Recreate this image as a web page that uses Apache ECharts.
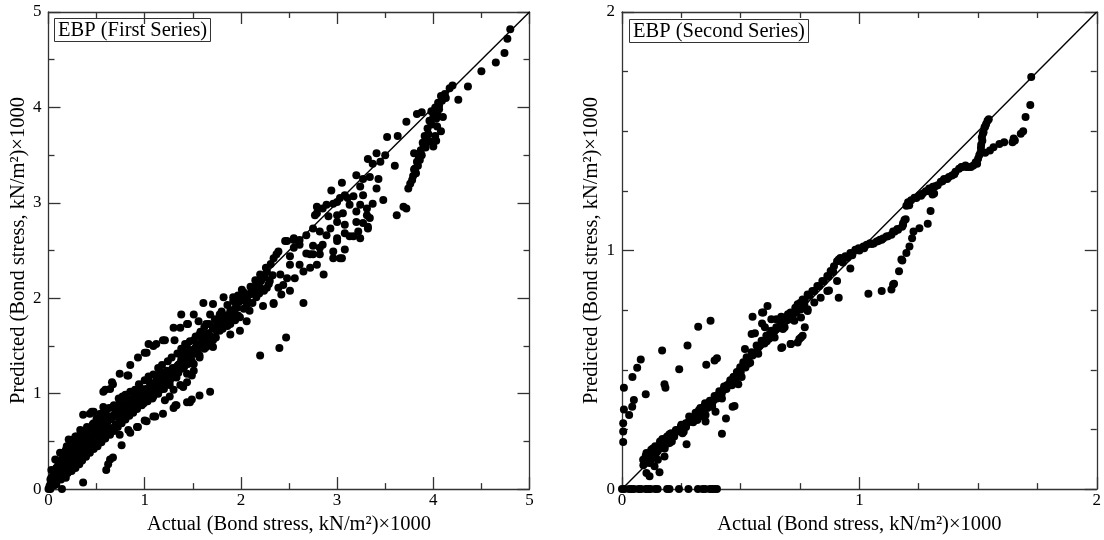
<!DOCTYPE html>
<html>
<head>
<meta charset="utf-8">
<script src="https://cdn.jsdelivr.net/npm/echarts@6/dist/echarts.min.js"></script>
<style>html,body{margin:0;padding:0;background:#fff;}#c{width:1104px;height:540px;}</style>
</head>
<body>
<div id="c"></div>
<script>
// ---------- DATA ----------
const panelTitles = ['EBP (First Series)', 'EBP (Second Series)'];
const xAxisTitle = 'Actual (Bond stress, kN/m\u00B2)\u00D71000';
const yAxisTitle = 'Predicted (Bond stress, kN/m\u00B2)\u00D71000';
const firstRange = [0, 5];
const secondRange = [0, 2];
const firstDiagonal = [[0, 0], [5, 5]];
const secondDiagonal = [[0, 0], [2, 2]];

// [actual, predicted] – EBP first series
const firstSeries = [
[4.80,4.82],[4.77,4.72],[4.74,4.57],[4.65,4.47],[4.50,4.38],[4.36,4.22],[4.26,4.08],[4.20,4.23],[4.17,4.20],[4.12,4.14],
[4.08,4.12],[4.05,4.05],[4.02,4.00],[4.00,3.95],[4.06,3.98],[4.10,3.90],[4.03,3.88],[3.98,3.82],[4.04,3.80],[4.08,3.75],
[3.93,3.67],[3.90,3.60],[3.88,3.50],[3.84,3.39],[3.82,3.31],[3.78,3.24],[3.74,3.15],[3.80,3.52],[4.00,3.59],[3.95,3.72],
[4.02,3.70],[3.86,3.45],[3.80,3.35],[3.83,3.93],[3.88,3.95],[3.98,3.96],
[3.76,3.20],[3.79,3.28],[3.81,3.36],[3.83,3.43],[3.85,3.48],[3.87,3.55],[3.89,3.63],[3.91,3.70],[3.94,3.78],[3.96,3.86],
[4.00,3.90],[4.04,3.93],[4.06,4.02],[4.09,4.07],[4.13,4.10],[3.92,3.58],[3.97,3.64],[4.03,3.65],
[3.72,3.85],[3.63,3.70],[3.52,3.69],[3.60,3.39],[3.41,3.52],[3.50,3.50],[3.32,3.46],[3.37,3.41],[3.45,3.43],
[3.20,3.29],[3.27,3.25],[3.34,3.27],[3.43,3.25],[3.05,3.21],[3.24,3.17],[3.41,3.15],[2.94,3.13],[3.08,3.08],[3.17,3.07],
[3.27,3.08],[3.48,3.03],[3.72,2.94],[3.69,2.96],[3.62,2.87],
[2.79,2.96],[2.85,2.94],[2.96,2.99],[3.03,3.05],[3.11,3.05],[2.77,2.87],[2.91,2.86],[3.00,2.87],[3.13,2.98],[3.20,2.91],
[3.31,2.94],[3.34,2.84],[3.27,2.79],[3.08,2.77],[3.22,2.70],[3.32,2.73],[2.93,2.73],[2.82,2.70],[2.68,2.66],[2.55,2.63],
[2.46,2.60],[2.61,2.56],[2.75,2.55],[2.85,2.56],[3.00,2.63],[3.13,2.65],[2.96,2.49],[2.82,2.46],[3.03,2.42],[2.72,2.46],
[2.51,2.44],[2.37,2.46],
[2.89,2.98],[3.00,3.01],[3.24,2.98],[3.37,2.99],[3.31,2.87],[3.20,2.80],[3.06,2.89],[2.79,2.89],[3.00,2.80],[2.89,2.66],
[2.75,2.73],[3.00,2.60],[3.08,2.68],[3.17,2.65],[3.24,2.63],[3.32,2.75],[3.08,2.51],[2.96,2.42],[3.05,2.42],[2.86,2.25],
[2.48,2.60],[2.55,2.61],[2.61,2.61],[2.39,2.49],[2.34,2.42],[2.55,2.53],[2.68,2.47],[2.75,2.46],[2.82,2.53],[2.51,2.35],
[2.61,2.35],[2.65,2.28],[2.72,2.32],[2.79,2.35],[2.27,2.28],[2.22,2.23],[2.30,2.18],[2.41,2.25],[2.48,2.21],[2.56,2.21],
[2.44,2.14],[2.39,2.11],[2.27,2.11],[2.20,2.11],[2.65,1.95],[2.51,2.08],[2.42,2.04],[2.34,1.95],[2.23,1.92],[2.16,2.01],
[2.09,2.04],[2.01,2.09],[1.92,2.01],[1.82,2.01],[1.71,1.94],[1.61,1.95],[1.51,1.83],[1.38,1.83],[1.44,1.73],[1.56,1.76],
[1.68,1.83],[1.78,1.83],[1.89,1.87],[1.96,1.90],[2.09,1.87],[1.99,1.80],[2.06,1.76],[1.99,1.66],[1.89,1.62],[1.78,1.66],
[1.71,1.69],[1.64,1.73],[1.57,1.62],[1.51,1.56],[1.61,1.52],[1.71,1.49],[1.44,1.49],[1.47,1.35],[1.57,1.38],[1.40,1.42],
[1.51,1.24],[2.20,1.40],[2.40,1.48],[2.47,1.59],[2.34,1.94],
[1.30,1.69],[1.37,1.69],[1.45,1.73],[1.19,1.56],[1.09,1.50],[1.04,1.52],[0.93,1.38],[1.00,1.43],[0.85,1.30],[0.74,1.21],
[0.83,1.19],[0.67,1.10],[0.57,1.02],[0.64,1.05],[0.47,0.81],[0.43,0.79],[0.54,0.79],[0.36,0.78],[0.28,0.55],[0.21,0.52],
[0.35,0.59],
[1.68,1.02],[1.57,0.98],[1.47,0.91],[1.33,0.88],[1.30,0.85],[1.19,0.79],[1.09,0.76],[1.00,0.72],[0.92,0.65],[0.83,0.62],
[0.74,0.57],[0.76,0.46],[0.67,0.33],[0.62,0.26],[0.60,0.20],[0.36,0.07],[0.14,0.00],
[1.57,1.40],[1.51,1.31],[1.49,1.19],[1.44,1.12],[1.37,1.09],[1.26,1.09],[1.30,1.04],[1.26,0.97],[1.21,0.93],[1.61,1.56],
[1.64,1.62],[1.71,1.68],[1.78,1.71],[1.89,1.73],[1.92,1.80],[1.97,1.82],
[0.95,1.07],[1.05,1.12],[1.12,1.14],[1.16,1.23],[1.23,1.24],[0.99,1.00],[0.88,0.97],[0.81,0.93],[0.74,0.90],[0.67,0.86],
[0.60,0.83],[0.54,0.72],[0.47,0.69],[0.40,0.65],[0.33,0.62],[0.26,0.52],[0.19,0.45],[0.12,0.38],[0.07,0.31],[0.03,0.20],
[0.02,0.10],
[0.60,0.65],[0.54,0.55],[0.43,0.48],[0.36,0.41],[0.29,0.34],[0.22,0.27],[0.15,0.20],[0.09,0.14],[0.71,0.76],[0.81,0.83],
[0.88,0.86],[0.99,0.90],[1.09,0.97],[1.16,1.04],
[1.49,0.94],[1.44,0.91],[1.32,0.88],[1.11,0.76],[1.02,0.71],[0.93,0.65],[0.85,0.59],[0.64,0.31],[1.21,1.56],[1.31,1.56],
[1.12,1.52],[1.02,1.43],[0.82,1.19],[0.66,1.12],[0.59,1.04],[0.45,0.81],[0.57,0.86],[1.33,1.17],[1.44,1.21],[1.40,1.07],
[1.64,1.49],[1.71,1.56],
[0.05,0.08],[0.06,0.18],[0.08,0.22],[0.10,0.25],[0.11,0.30],[0.13,0.28],[0.16,0.33],[0.18,0.30],[0.20,0.38],[0.23,0.35],
[0.24,0.42],[0.27,0.40],[0.30,0.45],[0.31,0.50],[0.34,0.48],[0.37,0.52],[0.39,0.55],[0.41,0.58],[0.44,0.56],[0.46,0.62],
[0.49,0.60],[0.51,0.66],[0.53,0.63],[0.56,0.69],[0.58,0.72],[0.61,0.70],[0.63,0.76],[0.65,0.73],[0.68,0.78],[0.70,0.82],
[0.72,0.79],[0.75,0.84],[0.77,0.80],[0.79,0.88],[0.82,0.86],[0.84,0.90],[0.86,0.94],[0.89,0.92],[0.91,0.98],[0.93,0.95],
[0.96,1.02],[0.98,0.97],[1.01,1.05],[1.03,1.00],[1.06,1.08],[1.08,1.03],[1.10,1.10],[1.13,1.07],[1.15,1.17],[1.18,1.12],
[1.20,1.20],[1.22,1.15],[1.25,1.22],[1.27,1.18],[1.29,1.27],[1.32,1.24],[1.35,1.30],[1.38,1.36],[1.41,1.33],[1.43,1.40],
[1.46,1.44],[1.48,1.38],[1.52,1.47],[1.54,1.50],[1.58,1.52],[1.60,1.58],[1.63,1.55],[1.66,1.63],[1.69,1.60],[1.72,1.70],
[1.75,1.66],[1.77,1.74],[1.80,1.77],[1.83,1.75],[1.85,1.82],[1.88,1.79],[1.90,1.85],[1.93,1.88],[1.95,1.93],[1.98,1.96],
[2.01,1.98],[2.04,2.02],[2.07,1.97],[2.10,2.05],[2.13,2.08],[2.15,2.12],[2.18,2.15],[2.21,2.18],[2.25,2.22],
[0.00,0.00],[0.01,0.03],[0.02,0.05],[0.03,0.12],[0.04,0.07],[0.05,0.15],[0.07,0.10],[0.08,0.05],[0.10,0.12],[0.12,0.18],
[0.14,0.22],[0.17,0.24],[0.19,0.26],[0.21,0.30],[0.25,0.31],[0.28,0.36],[0.32,0.39],[0.35,0.44],[0.38,0.46],[0.42,0.51],
[0.45,0.52],[0.48,0.57],[0.52,0.59],[0.55,0.62],[0.57,0.64],[0.02,0.00],
[0.06,0.04],[0.09,0.09],[0.11,0.16],[0.13,0.10],[0.15,0.14],[0.17,0.19],[0.18,0.12],[0.20,0.17],[0.22,0.22],[0.24,0.19],
[0.26,0.25],[0.28,0.22],[0.30,0.29],[0.32,0.26],[0.33,0.33],[0.35,0.30],[0.37,0.37],[0.39,0.34],[0.41,0.42],[0.43,0.38],
[0.45,0.45],[0.47,0.42],[0.49,0.49],[0.51,0.45],[0.53,0.52],[0.55,0.49],[0.57,0.56],[0.59,0.53],[0.62,0.60],[0.64,0.57],
[0.66,0.64],[0.68,0.61],[0.70,0.68],[0.72,0.65],[0.74,0.72],[0.76,0.69],[0.78,0.76],[0.80,0.73],[0.82,0.79],[0.84,0.77],
[0.86,0.83],[0.88,0.80],[0.90,0.87],[0.92,0.84],[0.94,0.91],[0.97,0.88],[1.00,0.95],[1.03,0.92],[1.06,0.99],[1.08,0.95],
[1.11,1.02],[1.14,1.00],[1.17,1.08],[1.20,1.05],[1.23,1.12],[1.26,1.13],[1.29,1.17],[1.32,1.20],[1.35,1.22],[1.38,1.26],
[1.41,1.28],[1.45,1.31],[1.49,1.34],[1.53,1.42],[1.55,1.45],[1.62,1.47],[1.67,1.52],[1.74,1.59],[1.81,1.68],[1.86,1.71],
[1.94,1.77],[2.03,1.89],[2.06,1.92],[2.12,1.95],[2.19,2.05],[2.24,2.08],[2.29,2.15],[2.33,2.24],
[0.15,0.36],[0.18,0.41],[0.22,0.44],[0.26,0.47],[0.29,0.55],[0.33,0.56],[0.38,0.60],[0.42,0.63],[0.46,0.68],[0.50,0.74],
[0.55,0.78],[0.59,0.80],[0.63,0.85],[0.68,0.88],[0.73,0.95],[0.77,0.97],[0.80,0.99],[0.85,1.02],[0.90,1.04],[0.94,1.10],
[1.00,1.14],[1.04,1.18],[1.09,1.20],[1.14,1.27],[1.18,1.30],[1.24,1.34],[1.28,1.38],[1.34,1.42],[1.38,1.47],[1.42,1.52],
[1.47,1.55],[1.53,1.60],[1.58,1.65],[1.62,1.70],[1.67,1.73],[1.73,1.78],[1.80,1.86],[1.86,1.93],[1.92,1.97],[1.97,2.03],
[2.03,2.06],[2.10,2.12],[2.15,2.19],[2.20,2.25],[2.26,2.32],[2.31,2.36]
];

// [actual, predicted] – EBP second series
const secondSeries = [
[0.00,0],[0.01,0],[0.03,0],[0.04,0],[0.05,0],[0.07,0],[0.08,0],[0.10,0],[0.11,0],[0.12,0],[0.14,0],[0.15,0],[0.19,0],
[0.20,0],[0.24,0],[0.28,0],[0.32,0],[0.34,0],[0.35,0],[0.37,0],[0.38,0],[0.39,0],[0.40,0],
[0.005,0.276],[0.005,0.241],[0.005,0.197],[0.008,0.425],[0.008,0.334],[0.03,0.311],[0.043,0.345],[0.05,0.373],[0.044,0.47],
[0.064,0.509],[0.079,0.543],[0.10,0.398],[0.169,0.581],[0.179,0.44],[0.183,0.425],[0.241,0.502],[0.276,0.602],[0.321,0.681],
[0.373,0.706],[0.355,0.521],[0.39,0.539],[0.40,0.549],[0.55,0.722],[0.59,0.74],[0.613,0.768],
[0.272,0.188],[0.421,0.232],[0.438,0.296],[0.466,0.345],[0.474,0.348],[0.49,0.44],[0.158,0.071],[0.116,0.054],
[0.671,0.592],[0.71,0.608],[0.747,0.629],[0.761,0.643],[0.56,0.653],[0.59,0.694],
[0.089,0.123],[0.103,0.151],[0.123,0.165],[0.144,0.151],[0.158,0.179],[0.172,0.193],[0.186,0.213],[0.207,0.234],[0.227,0.248],
[0.248,0.262],[0.269,0.276],[0.283,0.304],[0.304,0.296],[0.324,0.331],[0.345,0.345],[0.366,0.359],[0.387,0.373],[0.407,0.394],
[0.428,0.415],[0.442,0.435],[0.456,0.456],[0.47,0.47],[0.484,0.491],[0.498,0.511],[0.511,0.532],[0.525,0.553],[0.546,0.574],
[0.567,0.602],[0.588,0.622],[0.608,0.643],[0.629,0.664],[0.65,0.678],[0.671,0.692],[0.691,0.706],[0.712,0.726],[0.733,0.74],
[0.754,0.754],[0.768,0.775],
[0.103,0.068],[0.116,0.109],[0.137,0.096],[0.151,0.123],[0.179,0.137],[0.20,0.193],[0.255,0.234],[0.296,0.283],[0.317,0.29],
[0.352,0.311],[0.352,0.283],[0.331,0.304],[0.38,0.345],[0.394,0.324],[0.421,0.38],[0.463,0.435],[0.504,0.47],[0.532,0.525],
[0.574,0.567],[0.643,0.636],[0.678,0.671],[0.726,0.706],[0.754,0.719],[0.782,0.747],
[0.546,0.65],[0.518,0.587],[0.595,0.74],
[0.629,0.712],[0.65,0.712],[0.671,0.722],[0.699,0.733],[0.675,0.595],[0.712,0.608],[0.74,0.615],[0.754,0.636],[0.77,0.678],
[0.782,0.754],[0.685,0.678],[0.622,0.65],[0.602,0.678],[0.865,0.83],[0.837,0.802],[0.81,0.782],
[0.09,0.10],[0.10,0.14],[0.12,0.12],[0.13,0.17],[0.15,0.16],[0.16,0.20],[0.18,0.17],[0.19,0.22],[0.21,0.20],[0.23,0.24],
[0.25,0.27],[0.27,0.26],[0.29,0.30],[0.31,0.32],[0.33,0.34],[0.35,0.36],[0.37,0.37],[0.39,0.39],[0.41,0.41],[0.43,0.43],
[0.45,0.44],[0.47,0.47],[0.49,0.49],[0.51,0.51],[0.53,0.54],[0.55,0.56],[0.57,0.58],[0.60,0.61],[0.62,0.63],[0.64,0.66],
[0.66,0.68],[0.68,0.69],[0.70,0.71],[0.72,0.73],[0.74,0.75],[0.76,0.77],
[0.10,0.11],[0.11,0.13],[0.13,0.14],[0.14,0.18],[0.16,0.17],[0.17,0.21],[0.19,0.19],[0.20,0.23],[0.22,0.22],[0.24,0.25],
[0.26,0.24],[0.28,0.28],[0.30,0.28],[0.32,0.31],[0.34,0.32],[0.36,0.34],[0.38,0.36],[0.40,0.38],[0.42,0.40],[0.44,0.42],
[0.46,0.45],[0.48,0.46],[0.50,0.49],[0.52,0.51],[0.54,0.53],[0.56,0.57],[0.58,0.60],[0.61,0.62],[0.63,0.65],[0.65,0.67],
[0.67,0.70],[0.69,0.72],[0.71,0.74],[0.73,0.76],[0.75,0.78],[0.77,0.79],[0.79,0.81],[0.81,0.83],[0.83,0.85],[0.85,0.87],
[0.87,0.89],[0.89,0.91],[0.93,0.95],[0.95,0.97],[0.97,0.98],[1.00,1.00],[1.02,1.01],[1.06,1.03],[1.08,1.04],[1.10,1.05],
[1.12,1.06],[1.16,1.09],[1.18,1.10],[1.21,1.19],[1.24,1.22],[1.26,1.23],[1.29,1.25],[1.32,1.27],[1.35,1.29],[1.37,1.30],
[1.40,1.32],[1.43,1.35],[1.45,1.35],[1.47,1.35],[1.49,1.37],[1.505,1.40],[1.512,1.43],[1.518,1.46],[1.52,1.49],[1.53,1.52],
[1.545,1.55],
[0.74,0.775],[0.761,0.795],[0.782,0.816],[0.802,0.83],[0.823,0.851],[0.844,0.872],[0.865,0.893],[0.879,0.914],[0.893,0.934],
[0.913,0.962],[0.941,0.976],[0.962,0.99],[0.983,1.003],[0.997,1.01],[1.017,1.017],[1.031,1.024],[1.045,1.031],[1.052,1.027],
[1.073,1.038],[1.087,1.045],[1.094,1.045],[1.114,1.059],[1.135,1.066],[1.142,1.08],[1.149,1.08],[1.163,1.087],[1.184,1.107],
[1.195,1.131],[1.184,1.114],[1.19,1.128],[0.92,0.969],[0.906,0.955],
[0.872,0.833],[0.913,0.802],[0.906,0.872],[0.962,0.925],[1.038,0.819],[1.094,0.83],[1.135,0.837],[1.142,0.858],[1.146,0.861],
[1.167,0.913],[1.177,0.962],[1.181,0.958],[1.198,0.99],[1.211,1.017],[1.222,1.052],[1.228,1.08],[1.253,1.094],[1.288,1.112],
[1.30,1.166],[1.308,1.235],[1.315,1.239],
[1.198,1.188],[1.205,1.202],[1.218,1.211],[1.232,1.221],[1.253,1.232],[1.267,1.239],[1.28,1.249],[1.294,1.26],[1.31,1.267],
[1.33,1.274],[1.343,1.288],[1.357,1.30],[1.377,1.308],[1.39,1.315],[1.405,1.33],[1.42,1.343],[1.433,1.35],[1.447,1.357],
[1.46,1.35],[1.48,1.357],[1.496,1.364],[1.50,1.385],[1.51,1.41],[1.513,1.443],[1.516,1.475],[1.523,1.496],[1.527,1.516],
[1.534,1.53],[1.54,1.544],[1.53,1.41],[1.55,1.419],[1.565,1.433],[1.59,1.447],[1.61,1.454],[1.645,1.454],[1.65,1.47],
[1.655,1.461],[1.68,1.49],[1.69,1.50],[1.70,1.56],[1.72,1.61],[1.724,1.727]
];

// ---------- CHART ----------
const FONT = '"Liberation Serif", "Times New Roman", serif';
const INK = '#000';
const AX = '#333';
const grids = [
  { left: 48.5, top: 12, width: 481, height: 481 },
  { left: 622, top: 12, width: 481, height: 481 }
];
const ranges = [firstRange, secondRange];
const minorSplits = [2, 4];

function makeAxis(kind, gi, pos, labelled) {
  const r = ranges[gi];
  const ax = {
    type: 'value', gridIndex: gi, position: pos,
    min: r[0], max: r[1], interval: 1,
    splitLine: { show: false },
    axisLine: { show: true, onZero: false, lineStyle: { color: AX, width: 1.3 } },
    axisTick: { show: true, inside: true, length: 12, lineStyle: { color: AX, width: 1.3 } },
    minorTick: { show: true, splitNumber: minorSplits[gi], length: 6, lineStyle: { color: AX, width: 1.3 } },
    axisLabel: { show: labelled, color: INK, fontFamily: FONT, fontSize: 17,
                 margin: kind === 'x' ? 3 : 7, showMinLabel: true, showMaxLabel: true }
  };
  if (labelled) {
    ax.name = kind === 'x' ? xAxisTitle : yAxisTitle;
    ax.nameLocation = 'middle';
    ax.nameGap = kind === 'x' ? 19 : 18;
    ax.nameTextStyle = { color: INK, fontFamily: FONT, fontSize: 20.5 };
  }
  return ax;
}

const xAxes = [], yAxes = [];
[0, 1].forEach(gi => {
  xAxes.push(makeAxis('x', gi, 'bottom', true));
  xAxes.push(makeAxis('x', gi, 'top', false));
  yAxes.push(makeAxis('y', gi, 'left', true));
  yAxes.push(makeAxis('y', gi, 'right', false));
});

const pointData = [firstSeries, secondSeries];
const diagData = [firstDiagonal, secondDiagonal];
const series = [];
[0, 1].forEach(gi => {
  series.push({
    type: 'line', xAxisIndex: gi * 2, yAxisIndex: gi * 2, data: diagData[gi],
    symbol: 'none', silent: true, lineStyle: { color: INK, width: 1.4 }, z: 2
  });
  series.push({
    type: 'scatter', xAxisIndex: gi * 2, yAxisIndex: gi * 2, data: pointData[gi],
    symbol: 'circle', symbolSize: 8, itemStyle: { color: INK, opacity: 1 }, z: 3
  });
});

const titleBoxes = [
  { left: 54, top: 18 },
  { left: 629, top: 19 }
].map((p, i) => ({
  text: panelTitles[i], left: p.left, top: p.top,
  borderColor: AX, borderWidth: 1, padding: [2, 4, 1, 4],
  textStyle: { color: INK, fontFamily: FONT, fontSize: 20.5, fontWeight: 'normal', lineHeight: 21 }
}));

const chart = echarts.init(document.getElementById('c'), null, { renderer: 'canvas' });
chart.setOption({
  backgroundColor: '#fff',
  animation: false,
  title: titleBoxes,
  grid: grids,
  xAxis: xAxes,
  yAxis: yAxes,
  series: series
});
</script>
</body>
</html>
